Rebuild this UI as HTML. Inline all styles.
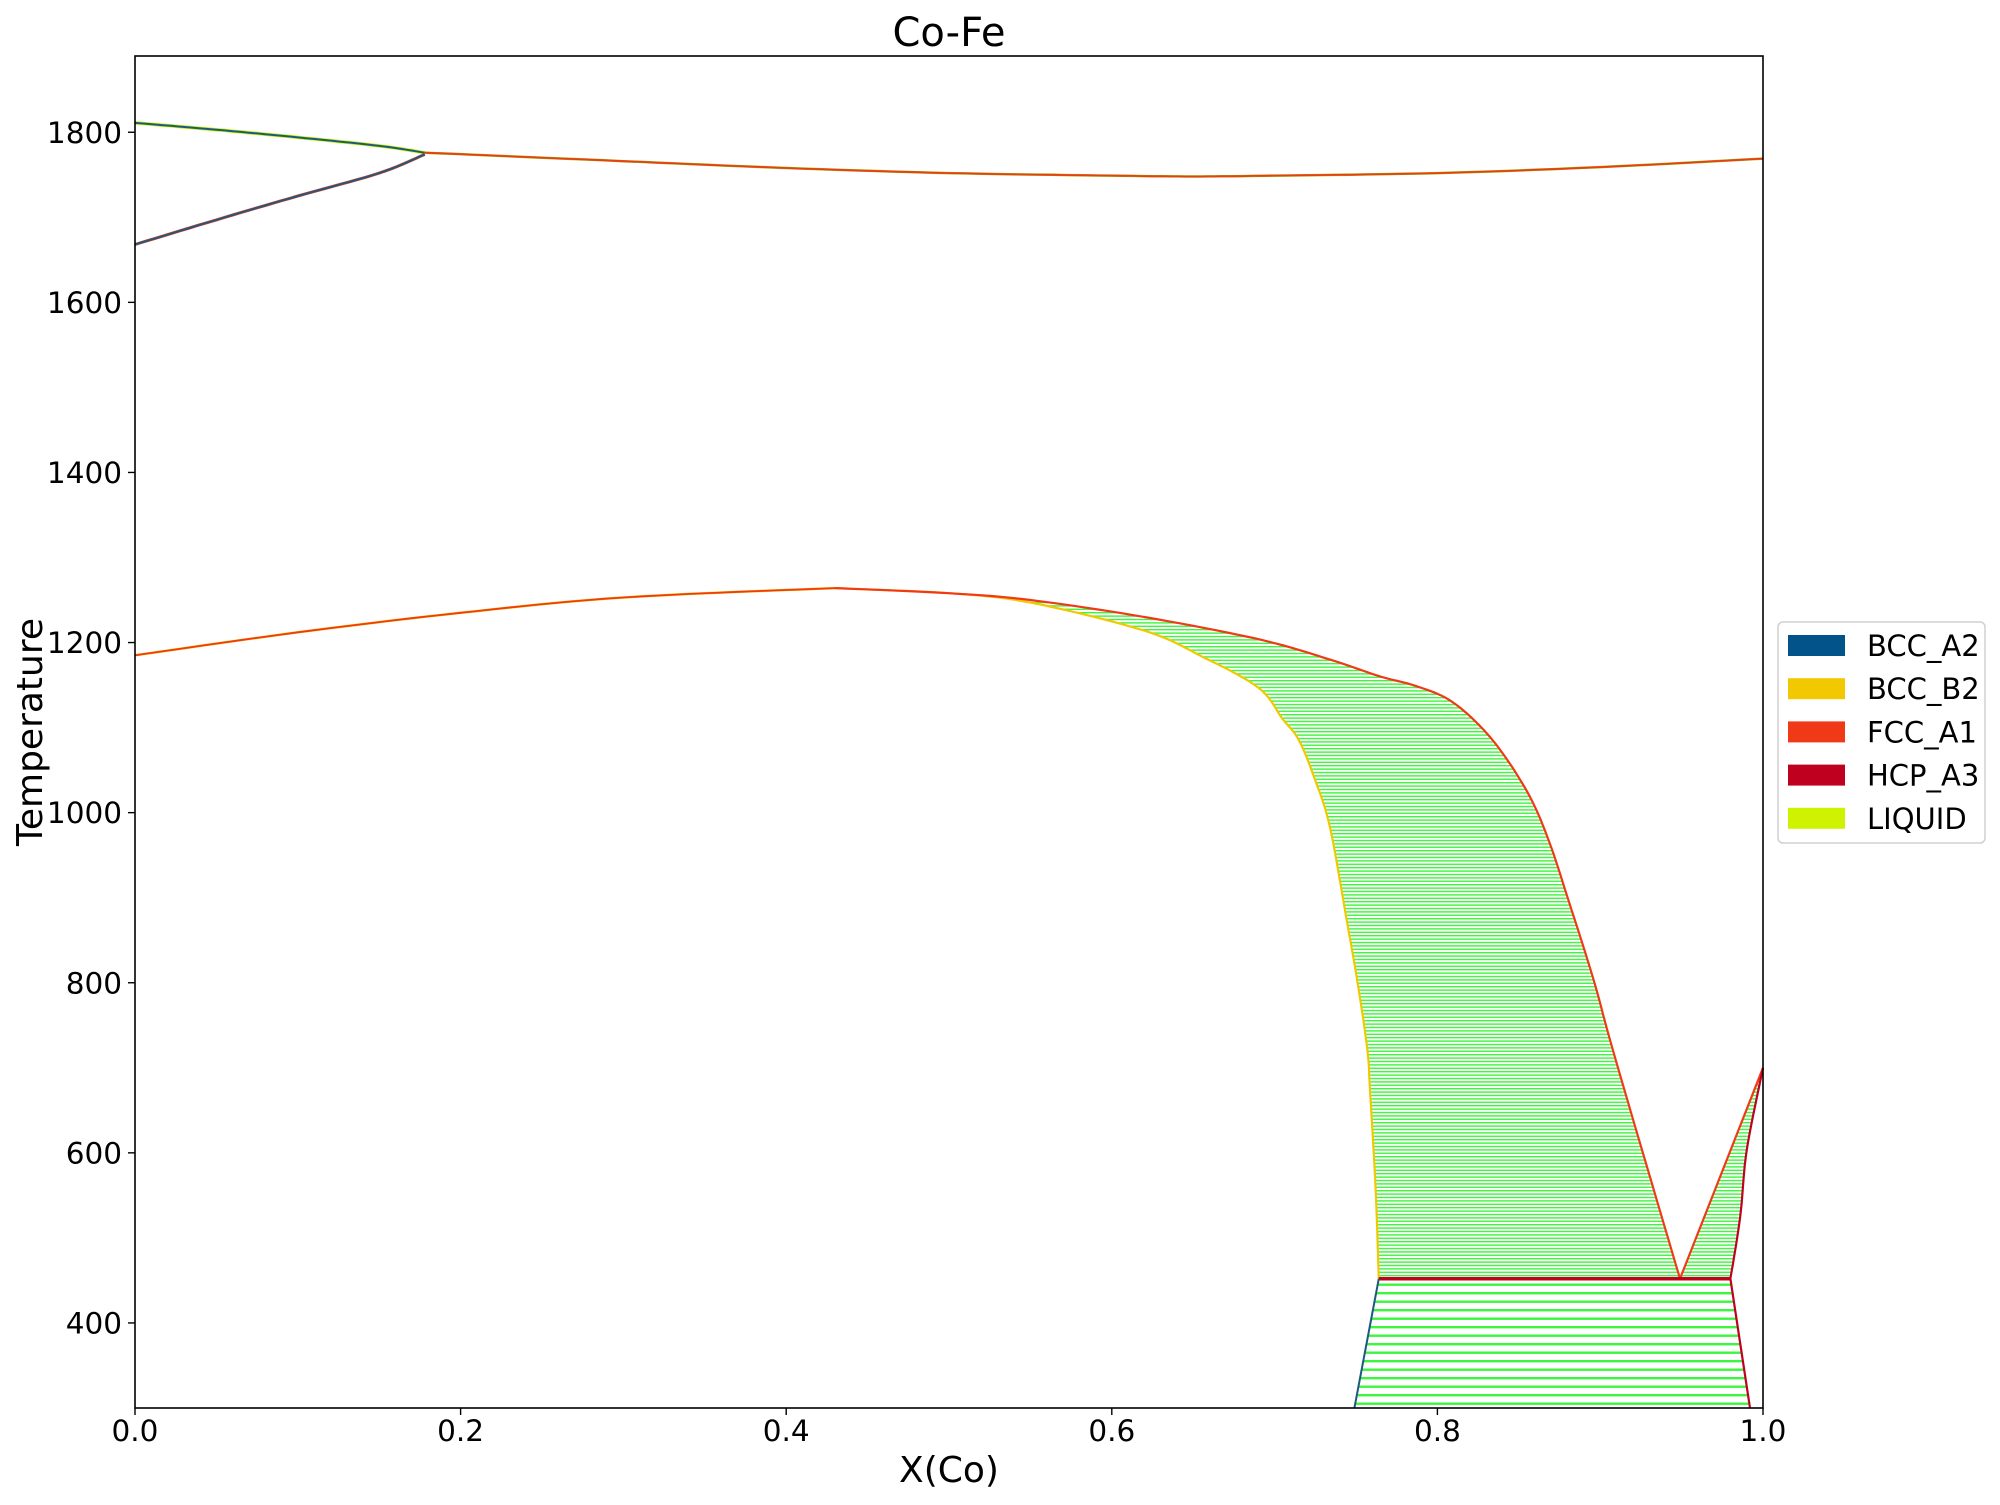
<!DOCTYPE html>
<html><head><meta charset="utf-8"><style>
html,body{margin:0;padding:0;background:#fff;}
svg text{font-family:"DejaVu Sans","Liberation Sans",sans-serif;fill:#000;}
</style></head><body>
<svg id="chart" width="2000" height="1500" xmlns="http://www.w3.org/2000/svg">
<defs>
<pattern id="tieUpper" patternUnits="userSpaceOnUse" width="10" height="3.4"><rect x="0" y="0" width="10" height="1.4" fill="#3cf53c"/></pattern>
<pattern id="tieLower" patternUnits="userSpaceOnUse" width="10" height="8.5"><rect x="0" y="0" width="10" height="2.4" fill="#3cf53c"/></pattern>
</defs>
<rect width="2000" height="1500" fill="#fff"/>
<g id="plot"></g>
<rect x="135" y="56" width="1628" height="1352" fill="none" stroke="#000" stroke-width="1.6"/>
<g id="axes"></g>
<text x="949" y="46" font-size="40" text-anchor="middle">Co-Fe</text>
<text x="949" y="1482" font-size="36" text-anchor="middle">X(Co)</text>
<text transform="translate(42,732) rotate(-90)" font-size="36" text-anchor="middle">Temperature</text>
<g>
<rect x="1778" y="622" width="207" height="221" rx="5" fill="#fff" stroke="#d0d0d0" stroke-width="1.5"/>
<g id="legendItems"></g>
</g>
</svg>
<script>
// Data (X(Co), Temperature K)
const liqUpperX=[0,0.05,0.1,0.15,0.178];
const liqUpperT=[1811,1803,1794,1784,1776];
const bccHighX=[0,0.05,0.1,0.15,0.178];
const bccHighT=[1668,1697,1725,1752,1774];
const liqRightX=[0.178,0.3,0.4,0.5,0.6,0.65,0.7,0.8,0.9,1.0];
const liqRightT=[1776,1766,1758,1752,1749,1748,1749,1752,1759,1769];
const orderLeftX=[0,0.1,0.2,0.3,0.43];
const orderLeftT=[1185,1212,1235,1253,1264];
const b2X=[0.43,0.5,0.55,0.62,0.655,0.69,0.705,0.715,0.725,0.734,0.744,0.751,0.757,0.7586,0.762,0.764];
const b2T=[1264,1258,1247,1214,1184,1147,1110,1085,1038,983,877,800,721,674,560,452];
const fccX=[0.43,0.5,0.55,0.62,0.69,0.734,0.765,0.785,0.806,0.824,0.840,0.857,0.869,0.881,0.896,0.910,0.949];
const fccT=[1264,1258,1250,1230,1204,1180,1160,1150,1134,1106,1070,1018,964,894,803,706,452];
const fccRightX=[0.949,1.0];
const fccRightT=[452,700];
const hcpCurveX=[0.98,0.986,0.99,1.0];
const hcpCurveT=[452,525,603,700];
const eutectoidX=[0.764,0.98];
const eutectoidT=[452,452];
const bccLowX=[0.764,0.749];
const bccLowT=[452,300];
const hcpLowX=[0.98,0.992];
const hcpLowT=[452,300];
const xTicks=[0,0.2,0.4,0.6,0.8,1.0];
const xTickLabels=["0.0","0.2","0.4","0.6","0.8","1.0"];
const yTicks=[400,600,800,1000,1200,1400,1600,1800];
const yTickLabels=["400","600","800","1000","1200","1400","1600","1800"];
const legendNames=["BCC_A2","BCC_B2","FCC_A1","HCP_A3","LIQUID"];
const legendColors=["#01538a","#f2c800","#f03a17","#c0001f","#cef200"];

const NS="http://www.w3.org/2000/svg";
function sx(x){return 135+x*1628;}
function sy(t){return 1408-(t-300)*0.8505;}
// smooth (Catmull-Rom) sampled screen points
function smooth(X,T){
  const P=X.map((x,i)=>[sx(x),sy(T[i])]);
  if(P.length<3) return P;
  const out=[];
  for(let i=0;i<P.length-1;i++){
    const p0=P[Math.max(i-1,0)],p1=P[i],p2=P[i+1],p3=P[Math.min(i+2,P.length-1)];
    for(let s=0;s<10;s++){
      const t=s/10,t2=t*t,t3=t2*t;
      const f=(a,b,c,d)=>0.5*((2*b)+(-a+c)*t+(2*a-5*b+4*c-d)*t2+(-a+3*b-3*c+d)*t3);
      out.push([f(p0[0],p1[0],p2[0],p3[0]),f(p0[1],p1[1],p2[1],p3[1])]);
    }
  }
  out.push(P[P.length-1]);
  return out;
}
function pts(X,T){return smooth(X,T).map(p=>p[0].toFixed(1)+","+p[1].toFixed(1));}
const plot=document.getElementById('plot');
function poly(points,fill,name){
  const p=document.createElementNS(NS,'polygon');
  p.setAttribute('points',points.join(' '));
  p.setAttribute('fill',fill);
  
  
  plot.appendChild(p);
}
function line(X,T,color,w,name){
  const p=document.createElementNS(NS,'polyline');
  p.setAttribute('points',pts(X,T).join(' '));
  p.setAttribute('fill','none');
  p.setAttribute('stroke',color);
  p.setAttribute('stroke-width',w);
  p.setAttribute('stroke-linejoin','round');
  
  
  plot.appendChild(p);
}
// tie-line regions
poly(pts(b2X,b2T).concat(pts(fccX,fccT).reverse()),'url(#tieUpper)','tie-lines-bcc-fcc');
poly(pts(bccLowX,bccLowT).concat(pts(hcpLowX,hcpLowT).reverse()),'url(#tieLower)','tie-lines-bcc-hcp');
poly(pts(fccRightX,fccRightT).concat(pts(hcpCurveX,hcpCurveT).reverse()),'url(#tieUpper)','tie-lines-fcc-hcp');
// boundaries
line(liqUpperX,liqUpperT,'#cef200',3.5,'liquidus-bcc');
line(liqUpperX,liqUpperT,'#1a5a80',2,'bcc-liquid-boundary');
line(bccHighX,bccHighT,'#f03a17',3,'fcc-delta-boundary');
line(bccHighX,bccHighT,'#1a5a80',2,'delta-bcc-boundary');
line(liqRightX,liqRightT,'#8ac000',2.5,'liquidus-fcc-under');
line(liqRightX,liqRightT,'#f03a17',1.8,'liquidus-fcc');
line(orderLeftX,orderLeftT,'#f2c800',2.5,'bcc-fcc-left-under');
line(orderLeftX,orderLeftT,'#f03a17',1.8,'bcc-fcc-left');
line(b2X,b2T,'#f2c800',2.2,'bcc-b2-boundary');
line(fccX,fccT,'#f03a17',2.2,'fcc-boundary');
line(fccRightX,fccRightT,'#f03a17',2.2,'fcc-hcp-boundary');
line(hcpCurveX,hcpCurveT,'#c0001f',2.2,'hcp-boundary');
line(eutectoidX,eutectoidT,'#c0001f',3.5,'eutectoid-line');
line(bccLowX,bccLowT,'#1a5a80',2,'bcc-low-boundary');
line(hcpLowX,hcpLowT,'#c0001f',2.2,'hcp-low-boundary');

// axes ticks
const axes=document.getElementById('axes');
xTicks.forEach((v,i)=>{
  const t=document.createElementNS(NS,'line');
  t.setAttribute('x1',sx(v));t.setAttribute('x2',sx(v));t.setAttribute('y1',1408);t.setAttribute('y2',1415);
  t.setAttribute('stroke','#000');t.setAttribute('stroke-width',1.4);
  
  
  axes.appendChild(t);
  const l=document.createElementNS(NS,'text');
  l.setAttribute('x',sx(v));l.setAttribute('y',1441);l.setAttribute('font-size',29.5);l.setAttribute('text-anchor','middle');
  l.textContent=xTickLabels[i];
  
  
  axes.appendChild(l);
});
yTicks.forEach((v,i)=>{
  const t=document.createElementNS(NS,'line');
  t.setAttribute('x1',128);t.setAttribute('x2',135);t.setAttribute('y1',sy(v));t.setAttribute('y2',sy(v));
  t.setAttribute('stroke','#000');t.setAttribute('stroke-width',1.4);
  
  
  axes.appendChild(t);
  const l=document.createElementNS(NS,'text');
  l.setAttribute('x',122);l.setAttribute('y',sy(v)+10.5);l.setAttribute('font-size',29.5);l.setAttribute('text-anchor','end');
  l.textContent=yTickLabels[i];
  
  
  axes.appendChild(l);
});
// legend
const lg=document.getElementById('legendItems');
legendNames.forEach((n,i)=>{
  const cy=645+i*43.2;
  const r=document.createElementNS(NS,'rect');
  r.setAttribute('x',1788);r.setAttribute('y',cy-10);r.setAttribute('width',57);r.setAttribute('height',21);
  r.setAttribute('fill',legendColors[i]);
  
  
  lg.appendChild(r);
  const t=document.createElementNS(NS,'text');
  t.setAttribute('x',1867);t.setAttribute('y',cy+11);t.setAttribute('font-size',29);
  t.textContent=n;
  
  
  lg.appendChild(t);
});
</script>
</body></html>
